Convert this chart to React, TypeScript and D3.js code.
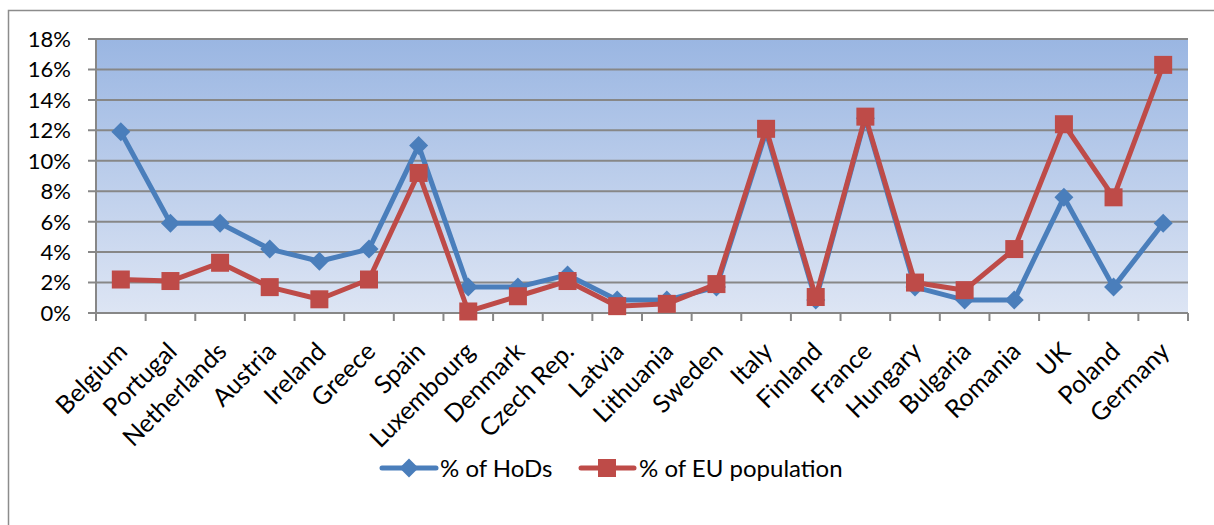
import React from "react";
import * as d3 from "d3";

const categories = ["Belgium","Portugal","Netherlands","Austria","Ireland","Greece","Spain","Luxembourg","Denmark","Czech Rep.","Latvia","Lithuania","Sweden","Italy","Finland","France","Hungary","Bulgaria","Romania","UK","Poland","Germany"];
const hods = [11.9,5.9,5.9,4.2,3.4,4.2,11.0,1.7,1.7,2.5,0.85,0.85,1.7,11.9,0.85,12.8,1.7,0.85,0.85,7.6,1.7,5.9];
const population = [2.2,2.1,3.3,1.7,0.9,2.2,9.2,0.1,1.1,2.1,0.45,0.6,1.9,12.1,1.05,12.9,2.0,1.5,4.2,12.4,7.6,16.3];
const yTicks = [0,2,4,6,8,10,12,14,16,18];
const seriesNames = ["% of HoDs","% of EU population"];

const BLUE = "#4A7EBB";
const RED = "#BE4B48";
const FONT = "Lato, 'Open Sans', sans-serif";

export default function App() {
  const left = 96, right = 1188, top = 39, bottom = 313;
  const x = d3.scaleBand<string>().domain(categories).range([left, right]);
  const y = d3.scaleLinear().domain([0, 18]).range([bottom, top]);
  const line = d3.line<number>().x((_, i) => (x(categories[i]) as number) + x.bandwidth() / 2).y(d => y(d));
  const cx = (i: number) => (x(categories[i]) as number) + x.bandwidth() / 2;
  const dia = 9.5, sq = 9;
  const diamond = (px: number, py: number) => `M${px},${py - dia}L${px + dia},${py}L${px},${py + dia}L${px - dia},${py}Z`;
  const tickXs = d3.range(categories.length + 1).map(i => left + i * x.step());

  return (
    <svg width={1214} height={525} style={{ position: "absolute", left: 0, top: 0, background: "#fff" }}>
      <defs>
        <linearGradient id="bg" x1="0" y1="0" x2="0" y2="1">
          <stop offset="0" stopColor="#9AB6E2" />
          <stop offset="1" stopColor="#DDE5F4" />
        </linearGradient>
      </defs>
      <path d="M8.5,525 V10.5 H1214" fill="none" stroke="#8c8c8c" strokeWidth={1.5} />
      <rect x={left} y={top} width={right - left} height={bottom - top} fill="url(#bg)" />
      {yTicks.map(t => (
        <g key={t}>
          <line x1={left - 8} x2={right} y1={y(t)} y2={y(t)} stroke="#878787" strokeWidth={2} />
          <text x={71} y={y(t)} dy="0.36em" textAnchor="end" fontFamily={FONT} fontSize={22} fill="#000">{t}%</text>
        </g>
      ))}
      <line x1={left} x2={left} y1={top} y2={bottom + 8} stroke="#878787" strokeWidth={2} />
      {tickXs.map((tx, i) => (
        <line key={i} x1={tx} x2={tx} y1={bottom} y2={bottom + 8} stroke="#878787" strokeWidth={2} />
      ))}
      {categories.map((c, i) => (
        <text key={c} transform={`translate(${cx(i) + 8},${bottom + 40}) rotate(-45)`} textAnchor="end" fontFamily={FONT} fontSize={25} fill="#000">{c}</text>
      ))}
      <path d={line(hods) as string} fill="none" stroke={BLUE} strokeWidth={5} strokeLinejoin="round" />
      {hods.map((v, i) => <path key={i} d={diamond(cx(i), y(v))} fill={BLUE} />)}
      <path d={line(population) as string} fill="none" stroke={RED} strokeWidth={5} strokeLinejoin="round" />
      {population.map((v, i) => <rect key={i} x={cx(i) - sq} y={y(v) - sq} width={2 * sq} height={2 * sq} fill={RED} />)}
      <g>
        <line x1={382} x2={436} y1={468} y2={468} stroke={BLUE} strokeWidth={5} strokeLinecap="round" />
        <path d={diamond(409, 468)} fill={BLUE} />
        <text x={440} y={468} dy="0.36em" fontFamily={FONT} fontSize={24} fill="#000">{seriesNames[0]}</text>
        <line x1={581} x2={634} y1={468} y2={468} stroke={RED} strokeWidth={5} strokeLinecap="round" />
        <rect x={607 - sq} y={468 - sq} width={2 * sq} height={2 * sq} fill={RED} />
        <text x={639} y={468} dy="0.36em" fontFamily={FONT} fontSize={24} fill="#000">{seriesNames[1]}</text>
      </g>
    </svg>
  );
}
